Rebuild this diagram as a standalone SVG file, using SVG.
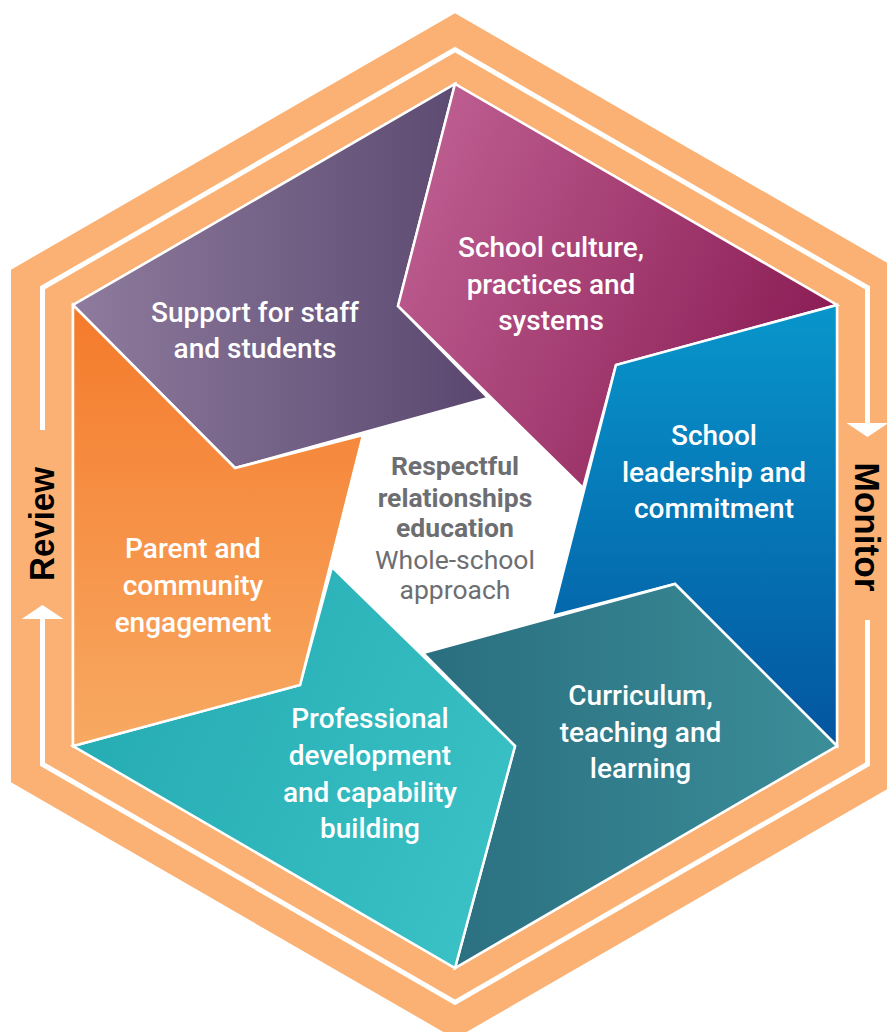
<svg xmlns="http://www.w3.org/2000/svg" width="887" height="1032" viewBox="0 0 887 1032">
<style>
.band{fill:#FAB173}
.seg{stroke:#FFFFFF;stroke-width:2.5;stroke-linejoin:miter}
.lbl{fill:#FFFFFF;font-family:Roboto,"Liberation Sans",sans-serif;font-weight:500;font-size:28px;text-anchor:middle}
.ctrb{fill:#6D6E71;font-family:Roboto,"Liberation Sans",sans-serif;font-weight:700;font-size:26.5px;text-anchor:middle}
.ctr{fill:#6D6E71;font-family:Roboto,"Liberation Sans",sans-serif;font-weight:400;font-size:26.5px;text-anchor:middle}
.cyc{fill:none;stroke:#FFFFFF;stroke-width:5;stroke-linejoin:miter}
.side{fill:#000000;font-family:"Liberation Sans",Arial,sans-serif;font-weight:700;font-size:35px;text-anchor:middle}
</style>
<defs>
<linearGradient id="gPurple" x1="0" y1="0.5" x2="1" y2="0.5"><stop offset="0" stop-color="#8E7B9D"/><stop offset="1" stop-color="#59476F"/></linearGradient>
<linearGradient id="gMagenta" x1="0" y1="0.3" x2="1" y2="0.7"><stop offset="0" stop-color="#BD5D90"/><stop offset="1" stop-color="#881A52"/></linearGradient>
<linearGradient id="gBlue" x1="0.5" y1="0" x2="0.5" y2="1"><stop offset="0" stop-color="#0896CB"/><stop offset="1" stop-color="#03559F"/></linearGradient>
<linearGradient id="gDteal" x1="0" y1="0.5" x2="1" y2="0.5"><stop offset="0" stop-color="#2A6E7F"/><stop offset="1" stop-color="#3B8E99"/></linearGradient>
<linearGradient id="gTeal" x1="0" y1="0.3" x2="1" y2="0.7"><stop offset="0" stop-color="#25ABB2"/><stop offset="1" stop-color="#39C1C5"/></linearGradient>
<linearGradient id="gOrange" x1="0.5" y1="0" x2="0.5" y2="1"><stop offset="0" stop-color="#F47A2B"/><stop offset="1" stop-color="#F8A962"/></linearGradient>
<marker id="arrow" markerUnits="userSpaceOnUse" markerWidth="16" markerHeight="44" refX="0" refY="21" orient="auto" viewBox="0 0 16 44">
<path d="M0,0 L14,21 L0,42 Z" fill="#FFFFFF"/>
</marker>
</defs>

<g id="frame">
<polygon class="band" points="455,13.3 899,269.7 899,782.3 455,1038.7 11,782.3 11,269.7"/>
<polygon fill="#FFFFFF" stroke="#FFFFFF" stroke-width="2.5" points="455,84 837,305 837,746 455,968 73,746 73,305"/>
</g>

<g id="connectors">
<path class="cyc" d="M42.5,430 L42.5,287.8 L455,49.7 L867.5,287.8 L867.5,423" marker-end="url(#arrow)"/>
<path class="cyc" d="M867.5,620 L867.5,764.2 L455,1002.3 L42.5,764.2 L42.5,619" marker-end="url(#arrow)"/>
<text class="side" transform="translate(54,524) rotate(-90)" textLength="114" lengthAdjust="spacingAndGlyphs">Review</text>
<text class="side" transform="translate(855,527) rotate(90)" textLength="129" lengthAdjust="spacingAndGlyphs">Monitor</text>
</g>

<g id="node-support">
<polygon class="seg" fill="url(#gPurple)" points="455,84 398,306 488,398 235,468 73,305"/>
<text class="lbl" x="255" y="322">Support for staff</text>
<text class="lbl" x="255" y="358">and students</text>
</g>

<g id="node-culture">
<polygon class="seg" fill="url(#gMagenta)" points="455,84 837,305 616,365 583,488 398,306"/>
<text class="lbl" x="551" y="257">School culture,</text>
<text class="lbl" x="551" y="293.5">practices and</text>
<text class="lbl" x="551" y="330">systems</text>
</g>

<g id="node-leadership">
<polygon class="seg" fill="url(#gBlue)" points="837,305 837,746 675,584 552,616 616,365"/>
<text class="lbl" x="714" y="445">School</text>
<text class="lbl" x="714" y="482">leadership and</text>
<text class="lbl" x="714" y="518">commitment</text>
</g>

<g id="node-curriculum">
<polygon class="seg" fill="url(#gDteal)" points="837,746 455,968 515,746 423,653 675,584"/>
<text class="lbl" x="640.5" y="705">Curriculum,</text>
<text class="lbl" x="640.5" y="742">teaching and</text>
<text class="lbl" x="640.5" y="778">learning</text>
</g>

<g id="node-professional">
<polygon class="seg" fill="url(#gTeal)" points="455,968 73,746 300,685 332,567 515,746"/>
<text class="lbl" x="370" y="728">Professional</text>
<text class="lbl" x="370" y="765">development</text>
<text class="lbl" x="370" y="802">and capability</text>
<text class="lbl" x="370" y="838">building</text>
</g>

<g id="node-parent">
<polygon class="seg" fill="url(#gOrange)" points="73,746 73,305 235,468 363,435 300,685"/>
<text class="lbl" x="193" y="558">Parent and</text>
<text class="lbl" x="193" y="595">community</text>
<text class="lbl" x="193" y="632">engagement</text>
</g>

<g id="node-center">
<text class="ctrb" x="455" y="475">Respectful</text>
<text class="ctrb" x="455" y="506.5">relationships</text>
<text class="ctrb" x="455" y="537">education</text>
<text class="ctr" x="455" y="568.5">Whole-school</text>
<text class="ctr" x="455" y="599">approach</text>
</g>
</svg>
